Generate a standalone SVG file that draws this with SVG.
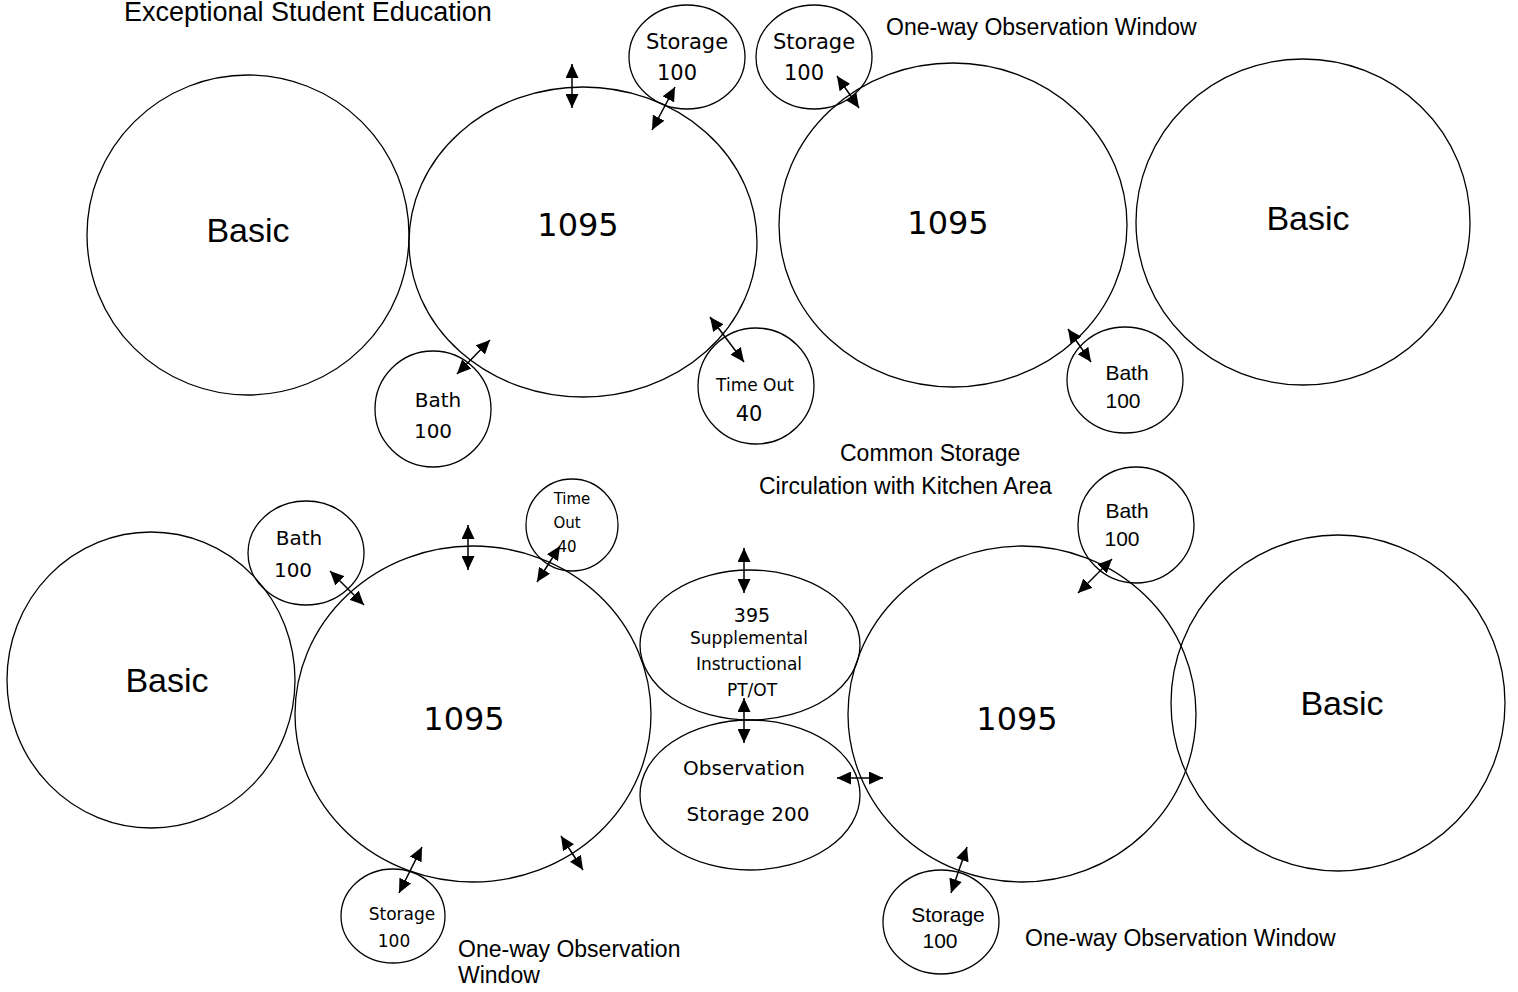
<svg xmlns="http://www.w3.org/2000/svg" width="1518" height="992" viewBox="0 0 1518 992">
<style>
.n{fill:none;stroke:#000;stroke-width:1.3}
.a{font-family:"Liberation Sans",Arial,sans-serif;fill:#000}
.c{font-family:"DejaVu Sans","Noto Sans",sans-serif;fill:#000}
.m{text-anchor:middle}
.k{stroke:#000;stroke-width:1.5;fill:none;marker-start:url(#h);marker-end:url(#h)}
</style>
<defs>
<marker id="h" markerUnits="userSpaceOnUse" markerWidth="15" markerHeight="13" refX="14" refY="6.5" orient="auto-start-reverse" viewBox="0 0 15 13">
<path d="M0,0 L14,6.5 L0,13 z" fill="#000"/>
</marker>
</defs>
<rect width="1518" height="992" fill="#fff"/>
<g id="labels">
<text class="a" x="124" y="21" font-size="27">Exceptional Student Education</text>
<text class="a" x="886" y="35" font-size="23">One-way Observation Window</text>
<text class="a" x="840" y="461" font-size="23">Common Storage</text>
<text class="a" x="759" y="494" font-size="23">Circulation with Kitchen Area</text>
<text class="a" x="458" y="957" font-size="23">One-way Observation</text>
<text class="a" x="458" y="983" font-size="23">Window</text>
<text class="a" x="1025" y="946" font-size="23">One-way Observation Window</text>
</g>
<g id="basic-tl"><ellipse class="n" cx="248" cy="235" rx="161" ry="160"/><text class="a m" x="248" y="242" font-size="34">Basic</text></g>
<g id="room-tl"><ellipse class="n" cx="583" cy="242" rx="174" ry="155"/><text class="c m" x="578" y="236" font-size="32">1095</text></g>
<g id="storage-t1"><ellipse class="n" cx="687" cy="57" rx="58" ry="52"/><text class="c m" x="687" y="49" font-size="21">Storage</text><text class="c m" x="677" y="80" font-size="21">100</text></g>
<g id="storage-t2"><ellipse class="n" cx="814" cy="57" rx="58" ry="52"/><text class="c m" x="814" y="49" font-size="21">Storage</text><text class="c m" x="804" y="80" font-size="21">100</text></g>
<g id="room-tr"><ellipse class="n" cx="953" cy="225" rx="174" ry="162"/><text class="c m" x="948" y="234" font-size="32">1095</text></g>
<g id="basic-tr"><ellipse class="n" cx="1303" cy="222" rx="167" ry="163"/><text class="a m" x="1308" y="230" font-size="34">Basic</text></g>
<g id="bath-tl"><ellipse class="n" cx="433" cy="409" rx="58" ry="58"/><text class="c m" x="438" y="407" font-size="20">Bath</text><text class="c m" x="433" y="438" font-size="20">100</text></g>
<g id="timeout-t"><ellipse class="n" cx="756" cy="386" rx="58" ry="58"/><text class="c m" x="755" y="391" font-size="17">Time Out</text><text class="c m" x="749" y="421" font-size="21">40</text></g>
<g id="bath-tr"><ellipse class="n" cx="1125" cy="380" rx="58" ry="53"/><text class="a m" x="1127" y="380" font-size="21">Bath</text><text class="a m" x="1123" y="408" font-size="21">100</text></g>
<g id="basic-bl"><ellipse class="n" cx="151" cy="680" rx="144" ry="148"/><text class="a m" x="167" y="692" font-size="34">Basic</text></g>
<g id="bath-bl"><ellipse class="n" cx="306" cy="553" rx="58" ry="52"/><text class="c m" x="299" y="545" font-size="20">Bath</text><text class="c m" x="293" y="577" font-size="20">100</text></g>
<g id="timeout-b"><ellipse class="n" cx="572" cy="525" rx="46" ry="46"/><text class="c m" x="572" y="504" font-size="15">Time</text><text class="c m" x="567" y="528" font-size="15">Out</text><text class="c m" x="567" y="552" font-size="15">40</text></g>
<g id="room-bl"><ellipse class="n" cx="473" cy="714" rx="178" ry="168"/><text class="c m" x="464" y="730" font-size="32">1095</text></g>
<g id="supplemental"><ellipse class="n" cx="750" cy="645" rx="110" ry="75"/><text class="c m" x="752" y="622" font-size="19">395</text><text class="c m" x="749" y="644" font-size="17">Supplemental</text><text class="c m" x="749" y="670" font-size="17">Instructional</text><text class="c m" x="752" y="696" font-size="17">PT/OT</text></g>
<g id="observation"><ellipse class="n" cx="750" cy="795" rx="110" ry="75"/><text class="c m" x="744" y="775" font-size="20">Observation</text><text class="c m" x="748" y="821" font-size="20">Storage 200</text></g>
<g id="room-br"><ellipse class="n" cx="1022" cy="714" rx="174" ry="168"/><text class="c m" x="1017" y="730" font-size="32">1095</text></g>
<g id="basic-br"><ellipse class="n" cx="1338" cy="703" rx="167" ry="168"/><text class="a m" x="1342" y="715" font-size="34">Basic</text></g>
<g id="bath-br"><ellipse class="n" cx="1136" cy="525" rx="58" ry="58"/><text class="a m" x="1127" y="518" font-size="21">Bath</text><text class="a m" x="1122" y="546" font-size="21">100</text></g>
<g id="storage-bl"><ellipse class="n" cx="393" cy="916" rx="52" ry="47"/><text class="c m" x="402" y="920" font-size="17">Storage</text><text class="c m" x="394" y="947" font-size="17">100</text></g>
<g id="storage-br"><ellipse class="n" cx="941" cy="922" rx="58" ry="52"/><text class="a m" x="948" y="922" font-size="21">Storage</text><text class="a m" x="940" y="948" font-size="21">100</text></g>
<g id="connectors">
<line class="k" x1="572" y1="64" x2="572" y2="108"/>
<line class="k" x1="675" y1="87" x2="652" y2="130"/>
<line class="k" x1="837" y1="76" x2="859" y2="108"/>
<line class="k" x1="490" y1="340" x2="457" y2="374"/>
<line class="k" x1="710" y1="317" x2="744" y2="362"/>
<line class="k" x1="1068" y1="329" x2="1091" y2="362"/>
<line class="k" x1="330" y1="571" x2="364" y2="605"/>
<line class="k" x1="468" y1="525" x2="468" y2="570"/>
<line class="k" x1="560" y1="546" x2="537" y2="582"/>
<line class="k" x1="744" y1="548" x2="744" y2="593"/>
<line class="k" x1="744" y1="698" x2="744" y2="743"/>
<line class="k" x1="837" y1="778" x2="883" y2="778"/>
<line class="k" x1="422" y1="847" x2="399" y2="893"/>
<line class="k" x1="561" y1="836" x2="583" y2="870"/>
<line class="k" x1="967" y1="847" x2="951" y2="893"/>
<line class="k" x1="1112" y1="559" x2="1078" y2="593"/>
</g>
</svg>
